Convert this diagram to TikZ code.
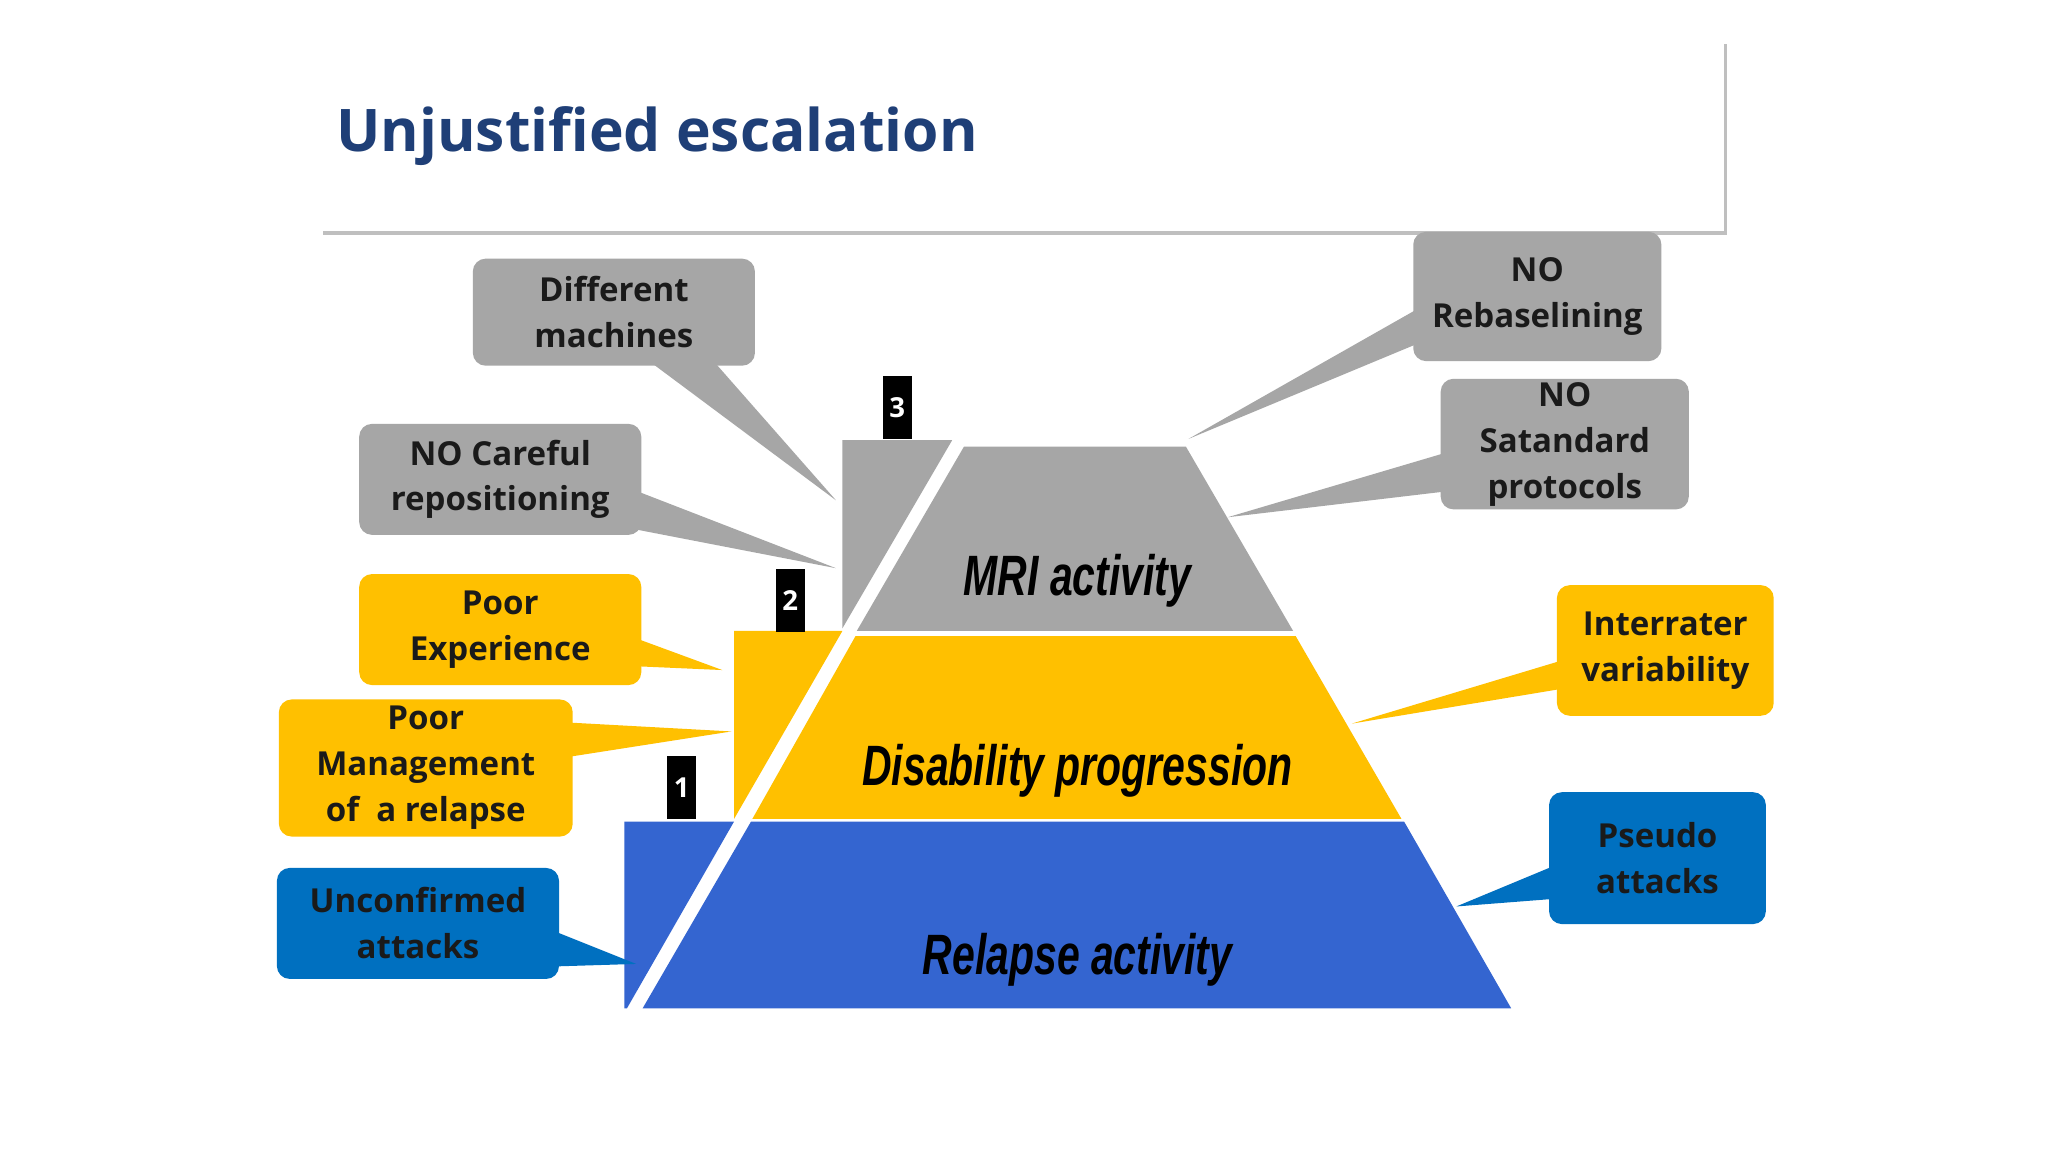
\documentclass[tikz,border=0pt]{standalone}
\usepackage{fontspec}
\setmainfont{Open Sans}
\newfontfamily\pyrfont{Liberation Sans}
\usetikzlibrary{calc}
\definecolor{ttl}{HTML}{1F3F77}
\definecolor{gr}{HTML}{A6A6A6}
\definecolor{yl}{HTML}{FFC000}
\definecolor{bl}{HTML}{3465D0}
\definecolor{cb}{HTML}{0070C0}
\definecolor{tx}{HTML}{1A1A1A}
\begin{document}
\begin{tikzpicture}[x=0.05cm,y=-0.05cm,
  bub/.style={rounded corners=14pt,inner sep=0pt,align=center,text=tx,
    font=\fontsize{36}{50}\selectfont\bfseries},
  tag/.style={fill=black,text=white,inner sep=0pt,minimum width=1.1cm,minimum height=2.4cm,
    font=\fontsize{30}{30}\selectfont\bfseries},
  pyr/.style={font=\pyrfont\fontsize{62}{62}\selectfont\bfseries\itshape,text=black,xscale=0.72}]
\useasboundingbox (0,0) rectangle (1568,882);
\fill[white] (0,0) rectangle (1568,882);
% title
\fill[black!25] (247,34) rectangle (1322,180);
\fill[white] (245,30) rectangle (1320,177);
\node[anchor=west,text=ttl,font=\fontsize{64}{64}\selectfont\bfseries] (title) at (255,104) {Unjustified escalation};
% pyramid
\fill[bl] (492,772) -- (575,629) -- (1075,629) -- (1157,772) -- cycle;
\fill[yl] (576,627) -- (655,487) -- (992,487) -- (1073,627) -- cycle;
\fill[gr] (656,483) -- (738,342) -- (908,342) -- (990,483) -- cycle;
\fill[bl] (478,772) -- (478,629) -- (562,629) -- (480,772) -- cycle;
\fill[yl] (562,627) -- (562,483) -- (645,483) -- cycle;
\fill[gr] (645,481) -- (645,337) -- (725,337) -- (729,337) -- cycle;
\node[pyr] (mri) at (825,445) {MRI activity};
\node[pyr] (dis) at (825,590) {Disability progression};
\node[pyr] (rel) at (825,735) {Relapse activity};
\node[tag] (t1) at (522,603) {1};
\node[tag] (t2) at (605,460) {2};
\node[tag] (t3) at (687,312) {3};
% callouts
\node[bub,fill=gr,minimum width=10.8cm,minimum height=4.1cm] (b1) at (470,239) {Different\\machines};
\coordinate (p1) at (640,383);
\fill[gr] (495,275) -- (p1) -- (545,275) -- cycle;
\node[bub,fill=gr,minimum width=10.8cm,minimum height=4.25cm] (b2) at (383,367) {NO Careful\\repositioning};
\coordinate (p2) at (640,435);
\fill[gr] (485,375) -- (p2) -- (485,405) -- cycle;
\node[bub,fill=yl,minimum width=10.8cm,minimum height=4.25cm] (b3) at (383,482) {Poor\\Experience};
\coordinate (p3) at (553,513);
\fill[yl] (485,488) -- (p3) -- (485,510) -- cycle;
\node[bub,fill=yl,minimum width=11.25cm,minimum height=5.25cm] (b4) at (326,588) {Poor\\Management\\of~ a relapse};
\coordinate (p4) at (560,560);
\fill[yl] (432,553) -- (p4) -- (432,580) -- cycle;
\node[bub,fill=cb,minimum width=10.8cm,minimum height=4.25cm] (b5) at (320,707) {Unconfirmed\\attacks};
\coordinate (p5) at (487,738);
\fill[cb] (422,712) -- (p5) -- (422,740) -- cycle;
\node[bub,fill=gr,minimum width=9.5cm,minimum height=4.95cm] (b6) at (1177,227) {NO\\Rebaselining};
\coordinate (p6) at (910,336);
\fill[gr] (1088,235) -- (p6) -- (1088,262) -- cycle;
\node[bub,fill=gr,minimum width=9.5cm,minimum height=5cm] (b7) at (1198,340) {NO\\Satandard\\protocols};
\coordinate (p7) at (940,396);
\fill[gr] (1109,346) -- (p7) -- (1109,376) -- cycle;
\node[bub,fill=yl,minimum width=8.3cm,minimum height=5cm] (b8) at (1275,498) {Interrater\\variability};
\coordinate (p8) at (1035,554);
\fill[yl] (1198,505) -- (p8) -- (1198,527) -- cycle;
\node[bub,fill=cb,minimum width=8.3cm,minimum height=5.05cm] (b9) at (1269,657) {Pseudo\\attacks};
\coordinate (p9) at (1115,694);
\fill[cb] (1192,662) -- (p9) -- (1192,688) -- cycle;
\end{tikzpicture}
\end{document}
